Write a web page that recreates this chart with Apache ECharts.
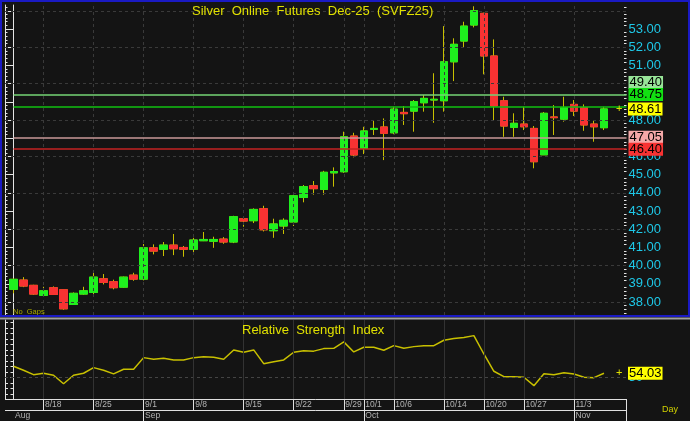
<!DOCTYPE html>
<html><head><meta charset="utf-8">
<script src="https://cdn.jsdelivr.net/npm/echarts@6/dist/echarts.min.js"></script>
<style>html,body{margin:0;padding:0;background:#141414;}#c{width:690px;height:421px;}</style>
</head><body><div id="c"></div>
<script>
// ---- data ----
const dates = ['8/13','8/14','8/15','8/18','8/19','8/20','8/21','8/22','8/25','8/26','8/27','8/28','8/29',
  '9/1','9/2','9/3','9/4','9/5','9/8','9/9','9/10','9/11','9/12','9/15','9/16','9/17','9/18','9/19',
  '9/22','9/23','9/24','9/25','9/26','9/29','9/30','10/1','10/2','10/3','10/6','10/7','10/8','10/9','10/10',
  '10/14','10/15','10/16','10/17','10/20','10/21','10/22','10/23','10/27','10/28','10/29','10/30','10/31',
  '11/3','11/4','11/5','11/6'];
const opens  = [38.70,39.21,38.92,38.37,38.79,38.68,37.87,38.44,38.53,39.28,39.12,38.82,39.48,
  39.26,40.98,40.90,41.13,41.00,40.90,41.37,41.34,41.46,41.30,42.58,42.47,43.13,41.92,42.18,
  42.40,43.75,44.39,44.19,45.10,45.16,47.12,46.44,47.49,47.62,47.30,48.42,48.49,48.95,49.10,
  49.06,51.20,52.34,53.22,53.86,51.52,49.06,47.60,47.78,47.54,46.09,48.17,48.05,
  48.86,48.68,47.78,47.58];
const closes = [39.25,38.88,38.44,38.62,38.42,37.63,38.48,38.62,39.37,39.08,38.79,39.37,39.26,
  40.98,40.80,41.13,40.93,40.90,41.41,41.44,41.44,41.30,42.69,42.45,43.09,41.97,42.29,42.49,
  43.84,44.34,44.23,45.13,45.17,47.08,46.08,47.40,47.54,47.27,48.60,48.35,49.01,49.19,49.14,
  51.20,52.16,53.16,54.01,51.52,48.77,47.67,47.82,47.63,45.71,48.37,48.13,48.68,
  48.49,47.73,47.63,48.61];
const lows   = [38.48,38.82,38.40,38.35,38.40,37.58,37.85,38.40,38.40,38.97,38.70,38.79,39.17,
  39.19,40.62,40.53,40.58,40.49,40.68,41.35,40.98,41.20,41.24,42.14,42.34,41.88,41.53,41.74,
  42.18,43.48,43.90,43.90,44.34,45.10,45.95,46.13,47.18,45.80,47.22,47.73,47.36,48.46,47.85,
  48.46,50.14,51.97,53.09,50.51,48.00,47.08,47.08,47.45,45.35,46.08,47.18,47.91,
  48.22,47.41,46.81,47.45];
const highs  = [39.30,39.37,38.95,38.84,38.86,38.70,38.53,38.84,39.69,39.54,39.23,39.40,39.61,
  41.19,41.17,41.30,41.74,41.08,41.53,41.85,41.59,41.57,42.74,42.69,43.15,43.29,42.58,42.60,
  43.93,44.43,44.65,45.21,45.40,47.36,47.30,47.63,47.95,48.09,48.73,48.77,49.10,49.37,50.57,
  53.16,52.49,53.40,54.25,53.90,52.43,49.28,48.37,48.73,47.67,48.44,48.82,49.28,
  49.10,48.86,47.95,48.73];
const rsi = [60.4,56.7,52.7,54.0,52.2,44.5,52.2,54.0,59.1,56.7,53.4,57.6,57.6,
  68.2,66.7,67.6,66.1,66.1,68.2,69.1,68.5,66.7,75.2,73.1,75.2,62.7,64.5,66.1,
  73.1,74.5,74.1,76.4,76.7,82.5,73.4,77.6,77.6,74.9,79.1,76.7,78.2,79.1,79.1,
  84.0,85.5,86.4,88.2,71.5,55.8,50.9,50.9,50.4,42.7,53.6,52.7,54.5,
  53.4,50.4,50.0,54.03];
const priceLabels = [38,39,40,41,42,43,44,45,46,48,51,52,53];
const priceGrid = [38,40,42,44,46,48,50,52,54];
const levelValues = [49.40, 48.75, 47.05, 46.40];
const lastPrice = 48.61;
const rsiLabels = [50];
const weekStarts = ['8/18','8/25','9/1','9/8','9/15','9/22','9/29','10/1','10/6','10/14','10/20','10/27','11/3'];
const monthStarts = ['8/13','9/1','10/1','11/3'];
const monthNames = ['Aug','Sep','Oct','Nov'];

// ---- styles / layout ----
const levelStyles = [
  {line:'#74d474', bg:'#98e498', off:-12},
  {line:'#10c010', bg:'#12e012', off:-12},
  {line:'#c89898', bg:'#f4a8a8', off:0},
  {line:'#c42222', bg:'#f83232', off:0}
];
const X_MIN = -0.85, X_MAX = 61.25;
const CYAN = '#1ec8e8', YEL = '#e0e000', WICK = '#c8c000', GREEN = '#1ef01e', RED = '#f83232', AX = '#e4e4e4';
const FONT = "'Liberation Sans', Arial, sans-serif";
const NARROW = "'Liberation Sans Narrow', 'Liberation Sans', sans-serif";

const idx = d => dates.indexOf(d);
const weekIdx = weekStarts.map(idx);
const monthIdx = monthStarts.map(idx);
const candleData = dates.map((d,i)=>[i, opens[i], closes[i], lows[i], highs[i]]);
const bodyData = dates.map((d,i)=>[i, opens[i], closes[i], Math.min(opens[i],closes[i]), Math.max(opens[i],closes[i])]);
const rsiData = rsi.map((v,i)=>[i, v]);

const majorTicks = []; for (let k = 38; k <= 54; k++) majorTicks.push(k);
const minorTicks = []; for (let k = 187; k <= 271; k++) { if (k % 5) minorTicks.push(+(k*0.2).toFixed(1)); }
const rsiTicks = []; for (let k = 35; k <= 100; k += 5) rsiTicks.push(k);

const PMIN = 37.29, PMAX = 54.32, RMIN = 30.6, RMAX = 102.4;

function yAx(grid, pos, min, max, ticks, len, labels, line) {
  return {
    type:'value', gridIndex:grid, position:pos, min:min, max:max,
    axisLine:{show:line, lineStyle:{color:AX, width:1}},
    axisTick:{show:true, inside:true, length:len, customValues:ticks, lineStyle:{color:AX, width:1}},
    axisLabel: labels ? {show:true, customValues:labels, formatter:v=> (grid===0? v.toFixed(2): String(v)),
      color:CYAN, fontSize:13, margin:2, fontFamily:FONT} : {show:false},
    splitLine:{show:false}
  };
}

const levelLines = levelValues.map((v,k)=>[
  {coord:[0, v], lineStyle:{color:levelStyles[k].line, width:1.5, type:'solid'},
   label:{show:true, position:'end', distance:2, formatter:()=>v.toFixed(2), color:'#000', fontSize:13,
     fontFamily:FONT, backgroundColor:levelStyles[k].bg, padding:[0,1,0,1], lineHeight:13, offset:[0, levelStyles[k].off]}},
  {coord:[X_MAX, v]}
]);
function tagLine(v) {
  return [
    {coord:[0, v], lineStyle:{color:'transparent', width:0},
     label:{show:true, position:'end', distance:-10.5, formatter:()=>'{p|+}{b|'+v.toFixed(2)+'}',
       rich:{p:{color:YEL, fontSize:11, width:12, fontFamily:FONT},
             b:{color:'#000', fontSize:13, fontFamily:FONT, backgroundColor:'#ffff00', padding:[0,1,0,1], lineHeight:13}}}},
    {coord:[X_MAX, v]}
  ];
}
const lastRsi = rsi[rsi.length-1];

const stripLines = []
  .concat(weekIdx.map(i=>[{coord:[i,1]},{coord:[i,2]}]))
  .concat(monthIdx.slice(1).map(i=>[{coord:[i,0]},{coord:[i,1]}]))
  .concat([[{coord:[X_MIN,1]},{coord:[X_MAX,1]}],[{coord:[X_MIN,2]},{coord:[X_MAX,2]}],[{coord:[X_MAX,0]},{coord:[X_MAX,2]}]]);

const option = {
  backgroundColor:'#141414',
  animation:false,
  title:[
    {text:'Silver  Online  Futures  Dec-25  (SVFZ25)', left:192, top:4.5, padding:0,
     textStyle:{color:YEL, fontSize:13, fontWeight:'normal', fontFamily:FONT}},
    {text:'Relative  Strength  Index', left:242, top:324, padding:0,
     textStyle:{color:YEL, fontSize:13, fontWeight:'normal', fontFamily:FONT}},
    {text:'No  Gaps', left:13, top:308, padding:0,
     textStyle:{color:'#a8a800', fontSize:7.5, fontWeight:'normal', fontFamily:FONT}},
    {text:'Day', left:662, top:405, padding:0,
     textStyle:{color:'#d0d000', fontSize:9, fontWeight:'normal', fontFamily:FONT}}
  ],
  grid:[
    {left:5, top:5, width:621.5, height:310},
    {left:5, top:320, width:621.5, height:79},
    {left:5, top:399, width:621.5, height:22}
  ],
  xAxis:[
    {type:'value', gridIndex:0, min:X_MIN, max:X_MAX, show:false},
    {type:'value', gridIndex:1, min:X_MIN, max:X_MAX, show:false},
    {type:'value', gridIndex:2, min:X_MIN, max:X_MAX, show:false}
  ],
  yAxis:[
    yAx(0,'right',PMIN,PMAX,majorTicks,5,priceLabels,true),
    yAx(0,'right',PMIN,PMAX,minorTicks,2.5,null,false),
    yAx(0,'left',PMIN,PMAX,majorTicks,5,null,true),
    yAx(0,'left',PMIN,PMAX,minorTicks,2.5,null,false),
    yAx(1,'right',RMIN,RMAX,rsiTicks,3,rsiLabels,true),
    yAx(1,'left',RMIN,RMAX,rsiTicks,3,null,true),
    {type:'value', gridIndex:2, min:0, max:2, show:false}
  ],
  series:[
    {type:'line', xAxisIndex:0, yAxisIndex:0, data:[], z:1, silent:true,
     markLine:{silent:true, symbol:['none','none'], label:{show:false},
       lineStyle:{color:'#3a3a3a', type:[3,3], width:1},
       data: priceGrid.map(v=>({yAxis:v})).concat(weekIdx.map(i=>({xAxis:i})))}},
    {type:'candlestick', xAxisIndex:0, yAxisIndex:0, data:candleData, encode:{x:0,y:[1,2,3,4]}, barWidth:8, z:2,
     itemStyle:{color:'transparent', color0:'transparent', borderColor:WICK, borderColor0:WICK, borderColorDoji:WICK, borderWidth:1}},
    {type:'candlestick', xAxisIndex:0, yAxisIndex:0, data:bodyData, encode:{x:0,y:[1,2,3,4]}, barWidth:8, z:3,
     itemStyle:{color:GREEN, color0:RED, borderColor:GREEN, borderColor0:RED, borderWidth:1},
     markLine:{silent:true, symbol:['none','none'], data: levelLines.concat([tagLine(lastPrice)])}},
    {type:'line', xAxisIndex:1, yAxisIndex:4, data:[], z:1, silent:true,
     markLine:{silent:true, symbol:['none','none'], label:{show:false},
       lineStyle:{color:'#333333', type:'solid', width:1},
       data: [{yAxis:50, lineStyle:{color:'#444444', type:[3,3]}}].concat(weekIdx.map(i=>({xAxis:i})))}},
    {type:'line', xAxisIndex:1, yAxisIndex:4, data:rsiData, symbol:'none', z:3,
     lineStyle:{color:WICK, width:1.5},
     markLine:{silent:true, symbol:['none','none'], data:[tagLine(lastRsi)]}},
    {type:'scatter', xAxisIndex:2, yAxisIndex:6, symbolSize:1, itemStyle:{color:'transparent'},
     data: weekIdx.map(i=>[i,1.5,dates[i]]),
     label:{show:true, position:'right', distance:1, formatter:p=>p.data[2], color:'#d8d8d8', fontSize:8.5, fontFamily:NARROW},
     markLine:{silent:true, symbol:['none','none'], label:{show:false}, lineStyle:{color:'#e0e0e0', type:'solid', width:1},
       data: stripLines}},
    {type:'scatter', xAxisIndex:2, yAxisIndex:6, symbolSize:1, itemStyle:{color:'transparent'},
     data: monthIdx.map((i,k)=>[i,0.5,monthNames[k]]),
     label:{show:true, position:'right', distance:1, formatter:p=>p.data[2], color:'#d8d8d8', fontSize:8.5, fontFamily:NARROW}}
  ],
  graphic:[
    {type:'rect', z:100, silent:true, shape:{x:1, y:1, width:688, height:315}, style:{fill:'none', stroke:'#1a1ac4', lineWidth:2}},
    {type:'line', z:100, silent:true, shape:{x1:0, y1:318.5, x2:690, y2:318.5}, style:{stroke:'#a0a0a0', lineWidth:2}}
  ]
};
const chart = echarts.init(document.getElementById('c'), null, {renderer:'canvas'});
chart.setOption(option);
</script></body></html>
